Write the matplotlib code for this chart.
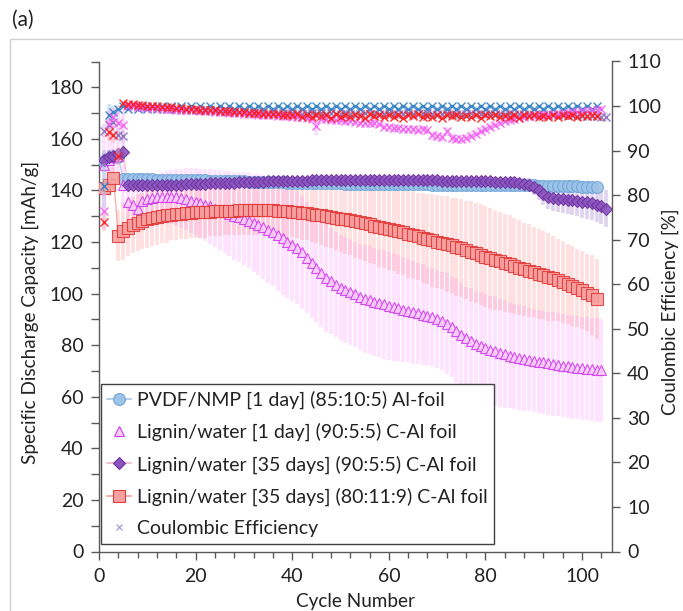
import matplotlib
matplotlib.use('Agg')
import matplotlib.pyplot as plt
from matplotlib.lines import Line2D
from matplotlib.patches import Rectangle
from matplotlib.ticker import MultipleLocator
import numpy as np

plt.rcParams['font.family'] = ['Lato', 'DejaVu Sans']

# ---------------- data ----------------
series_labels = [
    "PVDF/NMP [1 day] (85:10:5) Al-foil",
    "Lignin/water [1 day] (90:5:5) C-Al foil",
    "Lignin/water [35 days] (90:5:5) C-Al foil",
    "Lignin/water [35 days] (80:11:9) C-Al foil",
    "Coulombic Efficiency",
]

# PVDF/NMP capacity (cycles 1-103)
pvdf_cap = [151.5, 152.5, 153.0, 153.0,
            144.6, 144.5, 144.4, 144.4, 144.3, 144.3, 144.3, 144.2, 144.2, 144.2, 144.1, 144.1, 144.1, 144.0, 144.0, 144.0,
            143.9, 143.9, 143.8, 143.8, 143.7, 143.7, 143.6, 143.6, 143.5, 143.5, 143.4, 143.4, 143.3, 143.3, 143.2, 143.2, 143.1, 143.1, 143.0, 143.0,
            142.9, 142.9, 142.9, 142.8, 142.8, 142.8, 142.7, 142.7, 142.7, 142.7, 142.6, 142.6, 142.6, 142.6, 142.6, 142.5, 142.5, 142.5, 142.5, 142.5,
            142.5, 142.5, 142.4, 142.4, 142.4, 142.4, 142.4, 142.4, 142.3, 142.3, 142.3, 142.3, 142.3, 142.3, 142.3, 142.2, 142.2, 142.2, 142.2, 142.2,
            142.2, 142.1, 142.1, 142.1, 142.0, 142.0, 142.0, 142.0, 142.0, 142.0, 141.9, 141.9, 141.9, 141.9, 141.9, 141.8, 141.8, 141.7, 141.6, 141.5,
            141.5, 141.4, 141.3]
pvdf_err = [4.0, 3.0, 2.0, 2.0, 1.5, 1.5, 1.5, 1.5, 1.5, 1.5,
            1.5, 1.5, 1.5, 1.5, 1.5, 1.5, 1.5, 1.5, 1.5, 1.5,
            1.5, 1.5, 1.5, 1.5, 1.5, 1.5, 1.5, 1.5, 1.5, 1.5,
            1.5, 1.5, 1.5, 1.5, 1.5, 1.5, 1.5, 1.5, 1.5, 1.5,
            1.5, 1.5, 1.5, 1.5, 1.5, 1.5, 1.5, 1.5, 1.5, 1.5,
            1.5, 1.5, 1.5, 1.5, 1.5, 1.5, 1.5, 1.5, 1.5, 1.5,
            1.5, 1.5, 1.5, 1.5, 1.5, 1.5, 1.5, 1.5, 1.5, 1.5,
            1.5, 1.5, 1.5, 1.5, 1.5, 1.5, 1.5, 1.5, 1.5, 1.5,
            1.5, 1.5, 1.5, 1.5, 1.5, 1.5, 1.5, 1.5, 1.5, 1.5,
            1.6, 1.7, 1.8, 1.9, 2.0, 2.0, 2.0, 2.0, 2.0, 2.0,
            2.0, 2.0, 2.0]

# Lignin/water [1 day] (90:5:5) capacity (cycles 1-104)
lig1_cap = [150.0, 152.0, 153.0, 153.5, 142.0, 135.6, 134.3, 132.8, 135.8, 136.6,
            137.0, 137.3, 137.5, 137.5, 137.4, 137.3, 137.0, 136.6, 136.1, 135.6,
            135.0, 134.4, 133.8, 133.0, 132.3, 131.6, 130.9, 130.2, 129.6, 129.0,
            128.3, 127.5, 126.7, 125.8, 124.8, 123.8, 122.6, 121.4, 120.2, 119.0,
            117.8, 116.0, 114.0, 112.0, 110.0, 108.0, 106.2, 104.8, 103.5, 102.3,
            101.3, 100.5, 99.7, 98.8, 98.0, 97.4, 96.8, 96.3, 95.8, 95.3,
            94.8, 94.3, 93.8, 93.3, 92.8, 92.3, 91.8, 91.3, 90.8, 90.2,
            89.4, 88.4, 87.0, 85.5, 84.0, 82.6, 81.5, 80.5, 79.6, 78.8,
            78.2, 77.6, 77.0, 76.5, 76.0, 75.6, 75.2, 74.8, 74.4, 74.0,
            73.6, 73.3, 73.0, 72.7, 72.4, 72.1, 71.8, 71.5, 71.2, 71.0,
            70.8, 70.6, 70.4, 70.3]
lig1_err = [12.0, 10.0, 9.0, 8.0, 8.0, 8.0, 8.0, 8.0, 8.0, 8.5,
            9.0, 9.0, 9.5, 10.0, 10.5, 11.0, 11.5, 12.0, 12.5, 13.0,
            13.5, 14.0, 14.5, 15.0, 15.5, 16.0, 16.5, 17.0, 17.5, 18.0,
            18.5, 19.0, 19.5, 20.0, 20.5, 21.0, 21.5, 22.0, 22.0, 22.0,
            22.0, 22.0, 21.5, 21.5, 21.0, 21.0, 21.0, 20.5, 20.5, 20.5,
            20.5, 20.5, 20.5, 20.5, 21.0, 21.0, 21.0, 21.0, 21.0, 21.0,
            21.0, 20.5, 20.5, 20.0, 20.0, 19.5, 19.5, 19.0, 19.0, 19.0,
            19.0, 19.5, 19.5, 20.0, 20.0, 20.0, 20.5, 20.5, 21.0, 21.0,
            21.0, 21.0, 21.0, 21.0, 20.5, 20.5, 20.5, 20.5, 20.0, 20.0,
            20.0, 20.0, 20.0, 20.0, 20.0, 20.0, 20.0, 20.0, 20.0, 20.0,
            20.0, 20.0, 20.0, 20.0]

# Lignin/water [35 days] (90:5:5) capacity (cycles 1-105)
lig35a_cap = [152.0, 153.0, 153.5, 154.0, 155.0,
              142.0, 142.0, 142.0, 142.1, 142.1, 142.1, 142.2, 142.2, 142.2, 142.3, 142.3, 142.3, 142.4, 142.4, 142.5,
              142.5, 142.6, 142.7, 142.7, 142.8, 142.9, 142.9, 143.0, 143.1, 143.1, 143.2, 143.3, 143.3, 143.4, 143.5, 143.5, 143.6, 143.6, 143.7, 143.7,
              143.8, 143.8, 143.8, 143.9, 143.9, 143.9, 144.0, 144.0, 144.0, 144.0, 144.0, 144.0, 144.0, 144.0, 144.0, 144.0, 144.0, 144.0, 144.0, 144.0,
              144.0, 144.0, 144.0, 144.0, 144.0, 143.9, 143.9, 143.9, 143.9, 143.9, 143.8, 143.8, 143.8, 143.8, 143.7, 143.7, 143.7, 143.6, 143.6, 143.5,
              143.5, 143.4, 143.4, 143.3, 143.2,
              143.1, 142.9, 142.6, 142.2, 141.3, 140.0, 138.6, 137.6, 137.0, 136.8, 136.6, 136.4, 136.2, 136.0, 135.7, 135.4, 135.0, 134.5, 133.8, 133.0]
lig35a_err = [2.5, 2.5, 2.5, 2.5, 2.5,
              1.2, 1.2, 1.2, 1.2, 1.2, 1.2, 1.2, 1.2, 1.2, 1.2, 1.2, 1.2, 1.2, 1.2, 1.2,
              1.2, 1.2, 1.2, 1.2, 1.2, 1.2, 1.2, 1.2, 1.2, 1.2, 1.2, 1.2, 1.2, 1.2, 1.2, 1.2, 1.2, 1.2, 1.2, 1.2,
              1.2, 1.2, 1.2, 1.2, 1.2, 1.2, 1.2, 1.2, 1.2, 1.2, 1.2, 1.2, 1.2, 1.2, 1.2, 1.2, 1.2, 1.2, 1.2, 1.2,
              1.2, 1.2, 1.2, 1.2, 1.2, 1.2, 1.2, 1.2, 1.2, 1.2, 1.2, 1.2, 1.2, 1.2, 1.2, 1.2, 1.2, 1.2, 1.2, 1.2,
              1.2, 1.2, 1.2, 1.2, 1.2,
              1.5, 1.8, 2.2, 2.7, 3.2, 3.8, 4.3, 4.8, 5.0, 5.2, 5.4, 5.6, 5.8, 6.0, 6.2, 6.3, 6.5, 6.7, 6.8, 7.0]

# Lignin/water [35 days] (80:11:9) capacity (cycles 1-103)
lig35b_cap = [141.0, 142.0, 145.0, 122.5, 124.2, 125.5, 126.6, 127.5, 128.2, 128.8,
              129.3, 129.7, 130.0, 130.3, 130.6, 130.8, 131.0, 131.2, 131.4, 131.5,
              131.6, 131.7, 131.8, 131.9, 132.0, 132.1, 132.2, 132.2, 132.3, 132.3,
              132.4, 132.4, 132.4, 132.4, 132.4, 132.3, 132.2, 132.1, 132.0, 131.8,
              131.6, 131.4, 131.2, 130.9, 130.6, 130.3, 130.0, 129.7, 129.4, 129.1,
              128.8, 128.4, 128.0, 127.6, 127.2, 126.8, 126.4, 126.0, 125.6, 125.2,
              124.7, 124.2, 123.7, 123.2, 122.7, 122.2, 121.7, 121.2, 120.7, 120.2,
              119.7, 119.2, 118.7, 118.1, 117.5, 116.9, 116.3, 115.7, 115.1, 114.3,
              113.7, 113.1, 112.5, 111.9, 111.3, 110.7, 110.1, 109.5, 108.9, 108.3,
              107.7, 107.1, 106.5, 105.9, 105.2, 104.5, 103.8, 103.0, 102.2, 101.4,
              100.4, 99.3, 98.0]
lig35b_err = [4.0, 4.0, 4.0, 10.0, 11.0, 11.0, 11.0, 11.0, 11.0, 11.0,
              11.0, 11.0, 10.5, 10.5, 10.0, 10.0, 10.0, 10.0, 10.0, 10.0,
              10.0, 10.0, 9.5, 9.5, 9.5, 9.5, 9.5, 9.5, 9.5, 9.5,
              9.5, 9.5, 9.5, 9.5, 9.5, 10.0, 10.0, 10.0, 10.0, 10.0,
              10.0, 10.5, 10.5, 11.0, 11.0, 11.5, 12.0, 12.0, 12.5, 13.0,
              13.5, 13.5, 14.0, 14.0, 14.5, 15.0, 15.0, 15.5, 15.5, 16.0,
              16.0, 16.5, 16.5, 17.0, 17.0, 17.0, 17.5, 17.5, 18.0, 18.0,
              18.0, 18.5, 18.5, 19.0, 19.0, 19.0, 19.5, 19.5, 19.5, 19.5,
              19.5, 19.5, 19.0, 19.0, 19.0, 18.5, 18.5, 18.0, 18.0, 17.5,
              17.5, 17.0, 17.0, 16.5, 16.0, 16.0, 15.5, 15.5, 15.0, 15.0,
              15.0, 15.5, 15.5]

# Coulombic efficiency [%] of each cell
pvdf_ce = [82.0, 98.0, 98.6, 99.3,
           99.9, 99.3, 99.9, 99.3, 99.9, 99.3, 99.9, 99.3, 99.9, 99.3,
           99.9, 99.3, 99.9, 99.3, 99.9, 99.3, 99.9, 99.3, 99.9, 99.3,
           99.9, 99.3, 99.9, 99.3, 99.9, 99.3, 99.9, 99.3, 99.9, 99.3,
           99.9, 99.3, 99.9, 99.3, 99.9, 99.3, 99.9, 99.3, 99.9, 99.3,
           99.9, 99.3, 99.9, 99.3, 99.9, 99.3, 99.9, 99.3, 99.9, 99.3,
           99.9, 99.3, 99.9, 99.3, 99.9, 99.3, 99.9, 99.3, 99.9, 99.3,
           99.9, 99.3, 99.9, 99.3, 99.9, 99.3, 99.9, 99.3, 99.9, 99.3,
           99.9, 99.3, 99.9, 99.3, 99.9, 99.3, 99.9, 99.3, 99.9, 99.3,
           99.9, 99.3, 99.9, 99.3, 99.9, 99.3, 99.9, 99.3, 99.9, 99.3,
           99.9, 99.3, 99.9, 99.3, 99.9, 99.3, 99.9, 99.3, 99.9]
pvdf_ce_err = [5.0, 2.5, 1.5, 1.0,
               0.3, 0.3, 0.3, 0.3, 0.3, 0.3, 0.3, 0.3, 0.3, 0.3,
               0.3, 0.3, 0.3, 0.3, 0.3, 0.3, 0.3, 0.3, 0.3, 0.3,
               0.3, 0.3, 0.3, 0.3, 0.3, 0.3, 0.3, 0.3, 0.3, 0.3,
               0.3, 0.3, 0.3, 0.3, 0.3, 0.3, 0.3, 0.3, 0.3, 0.3,
               0.3, 0.3, 0.3, 0.3, 0.3, 0.3, 0.3, 0.3, 0.3, 0.3,
               0.3, 0.3, 0.3, 0.3, 0.3, 0.3, 0.3, 0.3, 0.3, 0.3,
               0.3, 0.3, 0.3, 0.3, 0.3, 0.3, 0.3, 0.3, 0.3, 0.3,
               0.3, 0.3, 0.3, 0.3, 0.3, 0.3, 0.3, 0.3, 0.3, 0.3,
               0.3, 0.3, 0.3, 0.3, 0.3, 0.3, 0.3, 0.3, 0.3, 0.3,
               0.3, 0.3, 0.3, 0.3, 0.3, 0.3, 0.3, 0.3, 0.3]

lig1_ce = [76.5, 96.0, 97.5, 96.2, 95.8,
           100.0, 99.9, 99.8, 99.7, 99.6, 99.6, 99.5, 99.4, 99.4, 99.3, 99.2, 99.2, 99.1, 99.0, 99.0,
           98.9, 98.8, 98.8, 98.7, 98.6, 98.6, 98.5, 98.4, 98.4, 98.3,
           98.2, 98.2, 98.1, 98.0, 98.0, 97.9, 97.8, 97.8, 97.7, 97.6, 97.6, 97.5, 97.4,
           97.0, 95.6,
           97.2, 97.0, 96.9, 96.8, 96.8, 96.7, 96.6,
           96.4, 96.3, 96.2, 96.2, 96.1, 96.0,
           95.4, 95.2, 95.0, 95.0, 94.9, 94.8, 94.8, 94.7, 94.8, 94.6,
           93.4, 93.2, 93.0,
           94.3,
           92.9, 92.6, 92.5, 92.8,
           93.3, 93.8, 94.3, 94.8, 95.3, 95.8, 96.3,
           96.6, 96.9, 97.1, 97.4, 97.6,
           97.7, 97.8, 97.9, 98.0, 98.1, 98.2, 98.3, 98.4, 98.5, 98.6, 98.7, 98.8, 98.9, 99.0, 99.2, 99.4]
lig1_ce_err = [4.0, 3.0, 2.0, 3.0, 4.5,
               0.5, 0.5, 0.5, 0.5, 0.5, 0.5, 0.5, 0.5, 0.5, 0.5, 0.5, 0.5, 0.5, 0.5, 0.5,
               0.5, 0.5, 0.5, 0.5, 0.5, 0.5, 0.5, 0.5, 0.5, 0.5,
               0.6, 0.6, 0.6, 0.6, 0.6, 0.6, 0.6, 0.6, 0.6, 0.6, 0.6, 0.6, 0.6,
               0.8, 2.0,
               0.7, 0.7, 0.7, 0.7, 0.7, 0.7, 0.7,
               0.7, 0.7, 0.7, 0.7, 0.7, 0.7,
               0.8, 0.8, 0.8, 0.8, 0.8, 0.8, 0.8, 0.8, 0.8, 0.8,
               1.0, 1.0, 1.0,
               1.0,
               1.0, 1.0, 1.0, 1.0,
               1.0, 1.0, 0.9, 0.9, 0.8, 0.8, 0.8,
               0.7, 0.7, 0.7, 0.7, 0.7,
               0.6, 0.6, 0.6, 0.6, 0.6, 0.6, 0.6, 0.6, 0.6, 0.6, 0.6, 0.6, 0.6, 0.6, 0.6, 0.6]

lig35a_ce = [94.5, 95.8, 96.5, 93.6, 93.2,
             100.2, 100.0, 99.9, 99.8, 99.7, 99.6, 99.5, 99.5, 99.4, 99.3, 99.3, 99.2, 99.2, 99.1, 99.1,
             99.0, 98.9, 99.0, 98.8, 98.9, 98.8, 98.7, 98.8, 98.7, 98.6,
             98.7, 98.6, 98.5, 98.6, 98.5, 98.6, 98.4, 98.5, 98.4, 98.5,
             98.4, 98.3, 98.4, 98.5, 98.3, 98.4, 98.3, 98.4, 98.2, 98.3,
             98.4, 98.3, 98.2, 98.3, 98.4, 98.2, 98.3, 98.2, 98.3, 98.4,
             98.3, 98.2, 98.3, 98.4, 98.2, 98.3, 98.2, 98.4, 98.3, 98.2,
             98.3, 98.4, 98.2, 98.3, 98.2, 98.3, 98.4, 98.3, 98.2, 98.3,
             98.4, 98.3, 98.2, 98.3, 98.4, 98.3, 98.2, 98.3, 98.3, 98.2,
             98.2, 98.2, 98.1, 98.1, 98.0, 98.0, 97.9, 97.9, 97.8, 97.8, 97.8, 97.7, 97.7, 97.6, 97.5]
lig35a_ce_err = [1.5, 1.5, 1.5, 1.5, 1.5,
                 0.6, 0.6, 0.6, 0.6, 0.6, 0.6, 0.6, 0.6, 0.6, 0.6, 0.6, 0.6, 0.6, 0.6, 0.6,
                 0.6, 0.6, 0.6, 0.6, 0.6, 0.6, 0.6, 0.6, 0.6, 0.6,
                 0.6, 0.6, 0.6, 0.6, 0.6, 0.6, 0.6, 0.6, 0.6, 0.6,
                 0.6, 0.6, 0.6, 0.6, 0.6, 0.6, 0.6, 0.6, 0.6, 0.6,
                 0.6, 0.6, 0.6, 0.6, 0.6, 0.6, 0.6, 0.6, 0.6, 0.6,
                 0.6, 0.6, 0.6, 0.6, 0.6, 0.6, 0.6, 0.6, 0.6, 0.6,
                 0.6, 0.6, 0.6, 0.6, 0.6, 0.6, 0.6, 0.6, 0.6, 0.6,
                 0.6, 0.6, 0.6, 0.6, 0.6, 0.6, 0.6, 0.6, 0.6, 0.6,
                 0.7, 0.7, 0.7, 0.7, 0.7, 0.7, 0.8, 0.8, 0.8, 0.8, 0.8, 0.9, 0.9, 0.9, 0.9]

lig35b_ce = [74.0, 94.2, 93.6, 88.7,
             100.6, 100.5, 100.4, 100.3, 100.2, 100.1,
             100.0, 99.9, 99.8, 99.7, 99.7, 99.6, 99.5, 99.4, 99.4, 99.3,
             99.2, 99.1, 99.0, 99.0, 98.9, 98.8, 98.8, 98.7, 98.6, 98.6,
             98.5, 98.5, 98.4, 98.3, 98.3, 98.2, 98.2, 98.1, 98.1, 98.0,
             98.2, 97.6, 98.0, 97.5, 98.1, 97.7, 97.9, 97.4, 98.2, 97.6,
             98.0, 97.5, 98.1, 97.8, 97.4, 98.2, 97.7, 97.9, 97.5, 98.0,
             97.6, 98.1, 97.4, 97.9, 97.7, 98.2, 97.5, 97.8, 97.6, 98.0,
             97.4, 97.9, 97.7, 98.1, 97.5, 97.8, 97.6, 98.0, 97.4, 97.9,
             97.7, 98.1, 97.5, 97.8, 97.6, 98.0, 97.4, 97.9, 97.7, 98.1,
             97.5, 97.8, 97.6, 98.0, 97.5, 97.9, 97.7, 98.1, 97.6, 97.9,
             97.7, 98.0, 97.8]
lig35b_ce_err = [2.0, 2.0, 2.0, 2.0,
                 0.5, 0.5, 0.5, 0.5, 0.5, 0.5,
                 0.5, 0.5, 0.5, 0.5, 0.5, 0.5, 0.5, 0.5, 0.5, 0.5,
                 0.5, 0.5, 0.5, 0.5, 0.5, 0.5, 0.5, 0.5, 0.5, 0.5,
                 0.5, 0.5, 0.5, 0.5, 0.5, 0.5, 0.5, 0.5, 0.5, 0.5,
                 0.5, 0.5, 0.5, 0.5, 0.5, 0.5, 0.5, 0.5, 0.5, 0.5,
                 0.5, 0.5, 0.5, 0.5, 0.5, 0.5, 0.5, 0.5, 0.5, 0.5,
                 0.5, 0.5, 0.5, 0.5, 0.5, 0.5, 0.5, 0.5, 0.5, 0.5,
                 0.5, 0.5, 0.5, 0.5, 0.5, 0.5, 0.5, 0.5, 0.5, 0.5,
                 0.5, 0.5, 0.5, 0.5, 0.5, 0.5, 0.5, 0.5, 0.5, 0.5,
                 0.5, 0.5, 0.5, 0.5, 0.5, 0.5, 0.5, 0.5, 0.5, 0.5,
                 0.5, 0.5, 0.5]

x_ticks = [0, 20, 40, 60, 80, 100]
cap_ticks = [0, 20, 40, 60, 80, 100, 120, 140, 160, 180]
ce_ticks = [0, 10, 20, 30, 40, 50, 60, 70, 80, 90, 100, 110]

# ---------------- styles ----------------
styles = [
    dict(marker='o', ms=8.5, mfc='#9DC3E6', mec='#6FA3D8', line='#A9C8EA',
         band='#6FA8DC', band_a=0.35, ce='#2E7EC4', ce_band='#9DC3E6'),
    dict(marker='^', ms=7.5, mfc='#F8D0FB', mec='#D13BEF', line=None,
         band='#FF70FF', band_a=0.2, ce='#F35CF3', ce_band='#F7B5F7'),
    dict(marker='D', ms=6.0, mfc='#8A55BE', mec='#7030A0', line='#F2B4C4',
         band='#9F7FD0', band_a=0.33, ce='#8A6FB8', ce_band='#C7B5E3'),
    dict(marker='s', ms=8.0, mfc='#F6A0A0', mec='#E33A3A', line='#F2A0A0',
         band='#FF8A8A', band_a=0.27, ce='#FF1A1A', ce_band='#FFB0B0'),
]
caps = [pvdf_cap, lig1_cap, lig35a_cap, lig35b_cap]
errs = [pvdf_err, lig1_err, lig35a_err, lig35b_err]
ces = [pvdf_ce, lig1_ce, lig35a_ce, lig35b_ce]
ce_errs = [pvdf_ce_err, lig1_ce_err, lig35a_ce_err, lig35b_ce_err]

W, H = 683, 611
fig = plt.figure(figsize=(W / 100, H / 100), dpi=100)
ax_l, ax_r, ax_b, ax_t = 99, 612, 551.5, 61.5
ax = fig.add_axes([ax_l / W, 1 - ax_b / H, (ax_r - ax_l) / W, (ax_b - ax_t) / H])
ax2 = ax.twinx()

bar_lw = 2.75
# error bands (vertical bars)
for cap, err, st in zip(caps, errs, styles):
    x = np.arange(1, len(cap) + 1)
    c = np.array(cap); e = np.array(err)
    ax.vlines(x, c - e, c + e, colors=st['band'], linewidth=bar_lw,
              alpha=st['band_a'], zorder=1)
# connecting lines
for cap, st in zip(caps, styles):
    if st['line'] is None:
        continue
    x = np.arange(1, len(cap) + 1)
    ax.plot(x, cap, color=st['line'], lw=1.0, alpha=0.8, zorder=2)
# markers
for i, (cap, st) in enumerate(zip(caps, styles)):
    x = np.arange(1, len(cap) + 1)
    ax.plot(x, cap, ls='none', marker=st['marker'], ms=st['ms'], mfc=st['mfc'],
            mec=st['mec'], mew=0.8, alpha=0.9, zorder=3 + i)

# Coulombic efficiency on the secondary axis
ce_order = [0, 2, 1, 3]
for i in ce_order:
    ce = np.array(ces[i]); e = np.array(ce_errs[i]); st = styles[i]
    x = np.arange(1, len(ce) + 1)
    ax2.vlines(x, ce - e, ce + e, colors=st['ce_band'], linewidth=bar_lw,
               alpha=0.45, zorder=1)
for i in ce_order:
    ce = ces[i]; st = styles[i]
    x = np.arange(1, len(ce) + 1)
    ax2.plot(x, ce, ls='none', marker='x', ms=6, mec=st['ce'], mew=1.0,
             alpha=0.9, zorder=3)

# ---------------- axes formatting ----------------
axis_col = '#595959'
text_col = '#222222'
ax.set_xlim(0, 106.2)
ax.set_ylim(0, 190)
ax2.set_ylim(0, 110)
ax.set_xticks(x_ticks)
ax.xaxis.set_minor_locator(MultipleLocator(4))
ax.set_yticks(cap_ticks)
ax.yaxis.set_minor_locator(MultipleLocator(10))
ax2.set_yticks(ce_ticks)

for a in (ax, ax2):
    a.spines['top'].set_visible(False)
    for s in a.spines.values():
        s.set_color(axis_col)
        s.set_linewidth(1.0)
ax.spines['right'].set_visible(False)
ax2.spines['left'].set_visible(False)
ax2.spines['bottom'].set_visible(False)

tick_fs = 14
ax.tick_params(axis='x', which='major', direction='out', length=6, width=1,
               color=axis_col, labelsize=tick_fs, labelcolor=text_col, pad=6)
ax.tick_params(axis='x', which='minor', direction='out', length=4, width=1, color=axis_col)
ax.tick_params(axis='y', which='both', direction='out', length=6, width=1,
               color=axis_col, labelsize=tick_fs, labelcolor=text_col, pad=5)
ax2.tick_params(axis='y', which='major', direction='out', length=6, width=1,
                color=axis_col, labelsize=tick_fs, labelcolor=text_col, pad=5)

# titles
title_fs = 13.6
fig.text(12 / W, 1 - 20 / H, '(a)', fontsize=15, color=text_col, ha='left', va='center')
fig.text(30 / W, 1 - 312 / H, 'Specific Discharge Capacity [mAh/g]', rotation=90,
         fontsize=title_fs, color=text_col, ha='center', va='center')
fig.text(670 / W, 1 - 312 / H, 'Coulombic Efficiency [%]', rotation=90,
         fontsize=title_fs, color=text_col, ha='center', va='center')
fig.text(355 / W, 1 - 601 / H, 'Cycle Number', fontsize=title_fs, color=text_col,
         ha='center', va='center')

# legend
handles = [
    Line2D([], [], color=styles[0]['line'], lw=1.2, marker='o', ms=8.5,
           mfc=styles[0]['mfc'], mec=styles[0]['mec'], mew=0.8),
    Line2D([], [], ls='none', marker='^', ms=7.5, mfc=styles[1]['mfc'],
           mec=styles[1]['mec'], mew=0.8),
    Line2D([], [], color=styles[2]['line'], lw=1.2, marker='D', ms=6,
           mfc=styles[2]['mfc'], mec=styles[2]['mec'], mew=0.8),
    Line2D([], [], color=styles[3]['line'], lw=1.2, marker='s', ms=8,
           mfc=styles[3]['mfc'], mec=styles[3]['mec'], mew=0.8),
    Line2D([], [], ls='none', marker='x', ms=5, mec='#A08AD8', mew=0.8),
]
leg = ax2.legend(handles, series_labels, loc='lower left', bbox_to_anchor=(0.003, 0.016),
                 borderaxespad=0, fontsize=14, frameon=True, fancybox=False,
                 framealpha=1, edgecolor='#404040', handlelength=1.2,
                 handletextpad=0.3, borderpad=0.35, labelspacing=0.72)
leg.get_frame().set_linewidth(1.0)
for t in leg.get_texts():
    t.set_color(text_col)
leg.set_zorder(10)

# chart-area border
fig.add_artist(Rectangle((10 / W, -0.1), 1.2, (H - 39) / H + 0.1, transform=fig.transFigure,
                         fill=False, edgecolor='#D0D0D0', lw=1.0, clip_on=False))

fig.savefig('out.png', dpi=100)
